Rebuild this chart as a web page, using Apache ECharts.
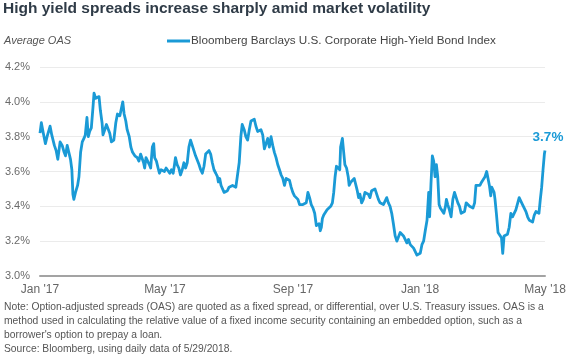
<!DOCTYPE html>
<html>
<head>
<meta charset="utf-8">
<script src="https://cdn.jsdelivr.net/npm/echarts@6/dist/echarts.min.js"></script>
<style>
html,body{margin:0;padding:0;background:#fff;}
#chart{width:570px;height:364px;}
</style>
</head>
<body>
<div id="chart"></div>
<script>
var days = [
0,1.3,3.2,5.2,6.8,8.4,9.7,11.3,13.8,15.5,17.1,19.3,21.3,23.2,24.5,26.1,27.7,29.3,30.6,31.6,32.5,34.1,36.1,37.4,39.0,40.6,42.2,43.5,45.1,46.4,47.7,49.3,50.9,51.9,53.5,55.1,56.7,58.0,59.6,60.5,62.2,63.8,65.4,67.0,68.6,70.9,72.8,74.4,76.7,78.3,79.5,80.8,82.4,83.7,85.7,87.3,88.9,91.1,93.4,95.0,96.6,98.2,99.5,
100.5,101.8,103.4,105.0,106.3,107.9,109.2,110.1,111.8,113.4,114.7,116.3,117.9,119.5,121.1,123.0,124.6,126.2,127.9,129.2,130.1,131.7,133.3,134.9,136.6,138.2,139.8,141.4,143.0,144.6,146.2,147.8,149.4,151.0,152.7,154.3,155.9,157.5,159.1,160.7,162.3,163.9,165.5,167.1,168.8,170.4,171.3,172.6,173.9,175.2,176.8,178.4,180.0,181.6,183.3,184.9,186.5,188.1,189.7,191.3,192.9,194.2,
196.1,197.7,199.4,201.0,202.6,204.2,205.8,207.4,209.0,210.6,212.2,213.9,215.5,217.1,218.7,220.3,221.9,223.5,225.1,226.7,228.3,230.0,231.6,233.2,234.8,236.4,238.0,239.6,241.2,242.8,244.4,246.0,247.7,249.3,250.9,252.5,254.1,255.7,257.3,258.9,260.5,262.2,263.8,265.4,267.0,268.0,269.2,270.2,271.2,272.5,274.4,275.7,277.6,279.2,280.8,282.1,283.4,284.7,286.3,287.9,288.7,290.4,
292.8,294.4,296.0,296.9,298.6,300.2,301.8,303.4,304.7,306.0,307.2,308.9,310.5,312.1,313.7,315.3,316.9,318.5,320.1,321.7,323.4,325.0,326.6,328.2,329.8,331.4,333.0,334.6,336.2,337.8,339.4,341.1,342.7,344.3,345.9,347.5,349.1,350.7,352.3,353.9,355.6,357.2,358.8,360.4,362.0,363.6,365.2,366.8,368.4,370.0,371.7,373.3,374.2,375.5,376.8,378.1,379.4,380.7,382.0,383.3,384.5,386.1,387.8,389.4,
390.3,391.6,393.2,394.8,396.5,398.1,399.7,401.3,402.9,404.5,406.1,407.7,409.3,410.9,412.6,414.2,415.8,417.4,418.7,420.6,422.5,424.2,425.8,427.4,429.0,430.3,431.6,432.9,433.8,435.1,436.1,437.0,438.3,439.9,441.5,443.2,444.4,445.7,447.3,449.0,450.6,452.2,453.8,455.4,457.0,458.6,460.2,461.8,463.4,465.0,466.7,468.3,469.9,471.5,473.1,474.7,476.3,478.0,479.2,480.5,481.8,483.1,484.4,485
];
// Average OAS, %
var oas = [
3.82,3.88,3.82,3.76,3.80,3.79,3.86,3.81,3.75,3.72,3.67,3.77,3.75,3.71,3.69,3.75,3.71,3.67,3.61,3.47,3.44,3.48,3.52,3.57,3.71,3.77,3.79,3.81,3.91,3.80,3.83,3.85,3.97,4.05,4.02,4.03,4.03,3.95,3.88,3.81,3.84,3.87,3.86,3.82,3.77,3.78,3.88,3.93,3.92,3.93,4.00,3.93,3.89,3.84,3.80,3.74,3.71,3.69,3.68,3.66,3.70,3.69,3.65,
3.62,3.68,3.68,3.64,3.62,3.74,3.76,3.68,3.66,3.62,3.59,3.61,3.62,3.60,3.62,3.62,3.59,3.61,3.59,3.64,3.68,3.64,3.62,3.58,3.61,3.65,3.62,3.65,3.74,3.78,3.77,3.72,3.69,3.69,3.64,3.61,3.59,3.63,3.70,3.71,3.72,3.70,3.65,3.61,3.59,3.57,3.54,3.56,3.52,3.52,3.48,3.49,3.49,3.51,3.50,3.52,3.52,3.51,3.52,3.65,3.80,3.87,
3.84,3.80,3.78,3.84,3.89,3.90,3.90,3.86,3.83,3.82,3.84,3.81,3.73,3.76,3.79,3.74,3.80,3.75,3.71,3.68,3.64,3.61,3.58,3.56,3.52,3.56,3.57,3.55,3.51,3.48,3.46,3.45,3.44,3.41,3.41,3.41,3.41,3.42,3.48,3.45,3.41,3.39,3.36,3.29,3.28,3.30,3.26,3.28,3.33,3.35,3.36,3.38,3.39,3.40,3.42,3.48,3.57,3.63,3.62,3.61,3.74,3.79,
3.64,3.62,3.57,3.52,3.54,3.53,3.56,3.55,3.49,3.45,3.47,3.42,3.44,3.48,3.47,3.47,3.45,3.49,3.50,3.50,3.49,3.44,3.42,3.42,3.41,3.43,3.45,3.42,3.40,3.36,3.30,3.23,3.20,3.19,3.25,3.24,3.23,3.21,3.19,3.21,3.18,3.17,3.16,3.15,3.12,3.12,3.13,3.18,3.20,3.26,3.32,3.48,3.34,3.53,3.69,3.66,3.57,3.64,3.57,3.41,3.39,3.38,3.36,3.40,
3.44,3.41,3.38,3.34,3.44,3.48,3.45,3.42,3.40,3.36,3.36,3.37,3.42,3.41,3.40,3.41,3.39,3.42,3.52,3.52,3.52,3.54,3.55,3.57,3.60,3.56,3.52,3.46,3.51,3.50,3.48,3.44,3.36,3.25,3.24,3.22,3.13,3.23,3.22,3.24,3.28,3.36,3.34,3.36,3.38,3.39,3.45,3.43,3.41,3.40,3.37,3.34,3.32,3.31,3.31,3.35,3.37,3.36,3.36,3.44,3.51,3.61,3.70,3.72
];
var tickDays = [0, 120, 243, 365, 485];
var tickLabels = ["Jan '17", "May '17", "Sep '17", "Jan '18", "May '18"];
var seriesName = 'Bloomberg Barclays U.S. Corporate High-Yield Bond Index';

var FONT = '"Liberation Sans", Arial, Helvetica, sans-serif';
var BLUE = '#1a9ad6';
var pts = days.map(function (d, i) { return [d, oas[i]]; });
var last = pts[pts.length - 1];

var chart = echarts.init(document.getElementById('chart'), null, {renderer: 'canvas'});
chart.setOption({
  backgroundColor: '#ffffff',
  animation: false,
  textStyle: {fontFamily: FONT},
  title: [
    {text: 'High yield spreads increase sharply amid market volatility', left: 3, top: 1, padding: 0,
     textStyle: {fontFamily: FONT, fontSize: 15.5, fontWeight: 'bold', color: '#2f3b47'}},
    {text: 'Average OAS', left: 4, top: 35, padding: 0,
     textStyle: {fontFamily: FONT, fontSize: 11, fontStyle: 'italic', fontWeight: 'normal', color: '#555555'}},
    {text: "Note: Option-adjusted spreads (OAS) are quoted as a fixed spread, or differential, over U.S. Treasury issues. OAS is a\nmethod used in calculating the relative value of a fixed income security containing an embedded option, such as a\nborrower's option to prepay a loan.\nSource: Bloomberg, using daily data of 5/29/2018.",
     left: 4, top: 300.5, padding: 0,
     textStyle: {fontFamily: FONT, fontSize: 10.3, lineHeight: 14, fontWeight: 'normal', color: '#555555'}}
  ],
  legend: {
    data: [seriesName], left: 167, top: 35, padding: 0,
    icon: 'rect', itemWidth: 23, itemHeight: 3,
    textStyle: {fontFamily: FONT, fontSize: 11.7, color: '#444444', padding: [0, 0, 0, -4]}
  },
  grid: {left: 40, right: 25, top: 67, bottom: 88, containLabel: false},
  xAxis: {
    type: 'value', min: 0, max: 485,
    axisLine: {show: true, lineStyle: {color: '#a3a3a3', width: 2}},
    axisTick: {show: false},
    splitLine: {show: false},
    axisLabel: {
      customValues: tickDays,
      margin: 8, fontSize: 12, color: '#666666', fontFamily: FONT,
      formatter: function (v) { var k = tickDays.indexOf(v); return k >= 0 ? tickLabels[k] : ''; }
    }
  },
  yAxis: {
    type: 'value', min: 3.0, max: 4.2, interval: 0.2,
    axisLine: {show: false}, axisTick: {show: false},
    splitLine: {lineStyle: {color: '#ebebeb', width: 1}},
    axisLabel: {margin: 10, fontSize: 11, color: '#6b6b6b', fontFamily: FONT,
      formatter: function (v) { return v.toFixed(1) + '%'; }}
  },
  series: [{
    name: seriesName, type: 'line', data: pts,
    showSymbol: false, symbol: 'none',
    lineStyle: {color: BLUE, width: 2.8, join: 'round'},
    itemStyle: {color: BLUE},
    markPoint: {
      symbol: 'circle', symbolSize: 2, itemStyle: {color: 'rgba(0,0,0,0)'},
      data: [{coord: last, value: last[1]}],
      label: {show: true, position: 'top', distance: 5, offset: [3, 0],
        fontFamily: FONT, fontSize: 13.5, fontWeight: 'bold', color: BLUE,
        formatter: function (p) { return p.value.toFixed(1) + '%'; }}
    }
  }]
});
</script>
</body>
</html>
